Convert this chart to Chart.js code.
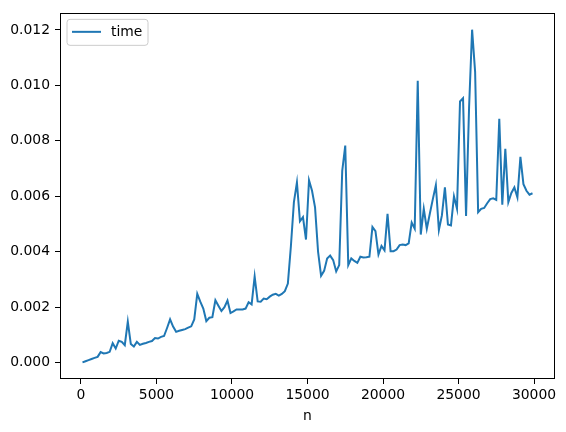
<!DOCTYPE html>
<html>
<head>
<meta charset="utf-8">
<script src="https://cdn.jsdelivr.net/npm/chart.js@4.4.1/dist/chart.umd.min.js"></script>
<style>
  html, body { margin: 0; padding: 0; background: #fff; }
  canvas { display: block; }
</style>
</head>
<body>
<canvas id="myChart" width="566" height="432"></canvas>
<script>
// data block
var nValues = [
    100, 300, 500, 700, 900, 1100, 1300, 1500, 1700, 1900,
    2100, 2300, 2500, 2700, 2900, 3100, 3300, 3500, 3700, 3900,
    4100, 4300, 4500, 4700, 4900, 5100, 5300, 5500, 5700, 5900,
    6100, 6300, 6500, 6700, 6900, 7100, 7300, 7500, 7700, 7900,
    8100, 8300, 8500, 8700, 8900, 9100, 9300, 9500, 9700, 9900,
    10100, 10300, 10500, 10700, 10900, 11100, 11300, 11500, 11700, 11900,
    12100, 12300, 12500, 12700, 12900, 13100, 13300, 13500, 13700, 13900,
    14100, 14300, 14500, 14700, 14900, 15100, 15300, 15500, 15700, 15900,
    16100, 16300, 16500, 16700, 16900, 17100, 17300, 17500, 17700, 17900,
    18100, 18300, 18500, 18700, 18900, 19100, 19300, 19500, 19700, 19900,
    20100, 20300, 20500, 20700, 20900, 21100, 21300, 21500, 21700, 21900,
    22100, 22300, 22500, 22700, 22900, 23100, 23300, 23500, 23700, 23900,
    24100, 24300, 24500, 24700, 24900, 25100, 25300, 25500, 25700, 25900,
    26100, 26300, 26500, 26700, 26900, 27100, 27300, 27500, 27700, 27900,
    28100, 28300, 28500, 28700, 28900, 29100, 29300, 29500, 29700, 29900
];
var timeValues = [
    0.00001, 0.00005, 0.00009, 0.00013, 0.00017, 0.00021, 0.00038, 0.00033, 0.00035, 0.00039,
    0.00070, 0.00051, 0.00079, 0.00075, 0.00063, 0.00148, 0.00067, 0.00058, 0.00075, 0.00064,
    0.00068, 0.00071, 0.00075, 0.00078, 0.00089, 0.00087, 0.00093, 0.00096, 0.00125, 0.00156,
    0.00130, 0.00111, 0.00115, 0.00118, 0.00121, 0.00126, 0.00131, 0.00156, 0.00248, 0.00220,
    0.00195, 0.00150, 0.00162, 0.00164, 0.00225, 0.00205, 0.00186, 0.00200, 0.00224, 0.00179,
    0.00185, 0.00192, 0.00192, 0.00192, 0.00195, 0.00218, 0.00210, 0.00311, 0.00221, 0.00220,
    0.00231, 0.00229, 0.00238, 0.00245, 0.00248, 0.00242, 0.00248, 0.00258, 0.00285, 0.00420,
    0.00579, 0.00650, 0.00510, 0.00525, 0.00444, 0.00658, 0.00620, 0.00560, 0.00400, 0.00313,
    0.00331, 0.00376, 0.00386, 0.00370, 0.00329, 0.00352, 0.00692, 0.00783, 0.00352, 0.00376,
    0.00367, 0.00360, 0.00382, 0.00379, 0.00380, 0.00382, 0.00489, 0.00474, 0.00390, 0.00421,
    0.00405, 0.00537, 0.00402, 0.00402, 0.00408, 0.00424, 0.00426, 0.00424, 0.00430, 0.00505,
    0.00483, 0.01017, 0.00462, 0.00555, 0.00483, 0.00537, 0.00590, 0.00640, 0.00478, 0.00531,
    0.00632, 0.00498, 0.00495, 0.00600, 0.00555, 0.00942, 0.00954, 0.00529, 0.00920, 0.01201,
    0.01049, 0.00543, 0.00555, 0.00558, 0.00575, 0.00590, 0.00593, 0.00587, 0.00880, 0.00570,
    0.00771, 0.00579, 0.00612, 0.00632, 0.00596, 0.00742, 0.00644, 0.00620, 0.00606, 0.00611
];
var xTicks = [0, 5000, 10000, 15000, 20000, 25000, 30000];
var yTicks = [0, 0.002, 0.004, 0.006, 0.008, 0.010, 0.012];

var FONT = 'DejaVu Sans';
var BLUE = '#1f77b4';

// frame + legend drawn like matplotlib
var framePlugin = {
    id: 'frame',
    afterDraw: function (chart) {
        var ctx = chart.ctx;
        var a = chart.chartArea;
        ctx.save();
        ctx.strokeStyle = '#000';
        ctx.lineWidth = 1;
        ctx.strokeRect(Math.round(a.left) + 0.5, Math.round(a.top) + 0.5,
            Math.round(a.right - a.left) - 1, Math.round(a.bottom - a.top) - 1);

        // legend box
        var bx = a.left + 7, by = a.top + 6, bw = 81, bh = 26, r = 3;
        ctx.beginPath();
        ctx.moveTo(bx + r, by);
        ctx.arcTo(bx + bw, by, bx + bw, by + bh, r);
        ctx.arcTo(bx + bw, by + bh, bx, by + bh, r);
        ctx.arcTo(bx, by + bh, bx, by, r);
        ctx.arcTo(bx, by, bx + bw, by, r);
        ctx.closePath();
        ctx.fillStyle = 'rgba(255,255,255,0.8)';
        ctx.fill();
        ctx.strokeStyle = '#cccccc';
        ctx.stroke();

        ctx.beginPath();
        ctx.strokeStyle = BLUE;
        ctx.lineWidth = 2;
        ctx.moveTo(bx + 5, by + 12.5);
        ctx.lineTo(bx + 34, by + 12.5);
        ctx.stroke();

        ctx.fillStyle = '#000';
        ctx.font = '13.9px "' + FONT + '"';
        ctx.textBaseline = 'middle';
        ctx.fillText(chart.data.datasets[0].label, bx + 44, by + 13);
        ctx.restore();
    }
};

var myCrt = document.getElementById('myChart');
var myChart = new Chart(myCrt, {
    type: 'line',
    data: {
        datasets: [{
            label: 'time',
            data: nValues.map(function (n, i) { return { x: n, y: timeValues[i] }; }),
            borderColor: BLUE,
            backgroundColor: BLUE,
            borderWidth: 2,
            pointRadius: 0,
            tension: 0,
            fill: false
        }]
    },
    options: {
        responsive: false,
        animation: false,
        layout: { padding: { left: 0, top: 9, right: 11, bottom: 0 } },
        plugins: {
            legend: { display: false },
            tooltip: { enabled: false }
        },
        scales: {
            x: {
                type: 'linear',
                min: -1390,
                max: 31390,
                afterBuildTicks: function (axis) {
                    axis.ticks = xTicks.map(function (v) { return { value: v }; });
                },
                afterFit: function (axis) { axis.height = 53; },
                grid: {
                    drawOnChartArea: false,
                    drawTicks: true,
                    tickLength: 5,
                    tickColor: '#000'
                },
                border: { display: false },
                ticks: {
                    color: '#000',
                    padding: 3,
                    maxRotation: 0,
                    autoSkip: false,
                    font: { family: FONT, size: 13.9 },
                    callback: function (v) { return String(v); }
                },
                title: {
                    display: true,
                    text: 'n',
                    color: '#000',
                    padding: { top: 2, bottom: 7 },
                    font: { family: FONT, size: 13.9 }
                }
            },
            y: {
                type: 'linear',
                min: -0.00059,
                max: 0.0126,
                afterBuildTicks: function (axis) {
                    axis.ticks = yTicks.map(function (v) { return { value: v }; });
                },
                afterFit: function (axis) { axis.width = 60; },
                grid: {
                    drawOnChartArea: false,
                    drawTicks: true,
                    tickLength: 5,
                    tickColor: '#000'
                },
                border: { display: false },
                ticks: {
                    color: '#000',
                    padding: 5,
                    autoSkip: false,
                    font: { family: FONT, size: 13.9 },
                    callback: function (v) { return v.toFixed(3); }
                }
            }
        }
    },
    plugins: [framePlugin]
});
</script>
</body>
</html>
